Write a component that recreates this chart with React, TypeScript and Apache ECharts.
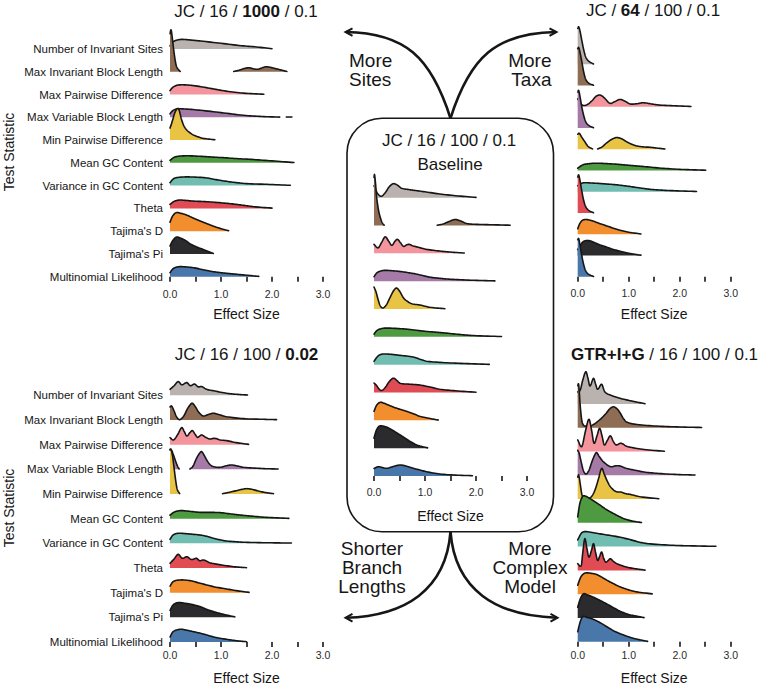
import React, { useEffect, useRef } from "react";
import * as echarts from "echarts";

type Seg = [number, number][];
type Ridge = Seg[];

const FONT = "'Liberation Sans', Arial, Helvetica, sans-serif";
const INK = "#161616";

const rowLabels = [
  "Number of Invariant Sites",
  "Max Invariant Block Length",
  "Max Pairwise Difference",
  "Max Variable Block Length",
  "Min Pairwise Difference",
  "Mean GC Content",
  "Variance in GC Content",
  "Theta",
  "Tajima's D",
  "Tajima's Pi",
  "Multinomial Likelihood",
];
const rowColors = ["#bab2ae", "#8f6d55", "#f4949c", "#a57aa6", "#e9c444", "#4d9a40", "#72bdb1", "#e04b54", "#f28e2d", "#2b2a2c", "#4a77a9"];
const xTickValues = [0, 0.5, 1, 1.5, 2, 2.5, 3];

// density ridges: each ridge = list of segments of [effect size, density]
const sites1000: Ridge[] = [
  [[[0, 3], [0.05, 7], [0.2, 9.5], [0.4, 9], [0.6, 8], [1.0, 5.7], [1.4, 3.3], [1.7, 2], [2.0, 0.3]]],
  [[[0, 38], [0.02, 42], [0.04, 36], [0.065, 25], [0.1, 12], [0.13, 5], [0.2, 0.3]],
   [[1.25, 0.3], [1.35, 1.5], [1.45, 3.2], [1.55, 4], [1.65, 2.8], [1.72, 2.5], [1.8, 3.8], [1.88, 5], [1.98, 4.3], [2.08, 3], [2.2, 1.5], [2.29, 0.3]]],
  [[[0, 4], [0.05, 7], [0.12, 9], [0.2, 9.7], [0.35, 9.5], [0.5, 8.7], [0.78, 6.3], [1.1, 3.4], [1.44, 1.4], [1.84, 0.3]]],
  [[[0, 3.5], [0.05, 6.5], [0.13, 8.3], [0.3, 8.3], [0.6, 7], [1.0, 4.7], [1.44, 2], [1.8, 0.8], [2.15, 0.2]], [[2.28, 0.3], [2.39, 0.3]]],
  [[[0, 12], [0.04, 18], [0.1, 28], [0.16, 31.7], [0.19, 28], [0.22, 21.7], [0.27, 14.5], [0.33, 10], [0.4, 7], [0.46, 5], [0.55, 3.2], [0.65, 1.7], [0.88, 0.3]]],
  [[[0, 2.5], [0.08, 5.5], [0.2, 6.8], [0.4, 7], [0.7, 6.2], [1.0, 5.3], [1.3, 4.3], [1.64, 3.3], [2.0, 2], [2.43, 0.3]]],
  [[[0, 3], [0.06, 6.5], [0.13, 8], [0.3, 8.7], [0.5, 8.5], [0.72, 7.7], [0.9, 6], [1.11, 4.3], [1.3, 3], [1.5, 2], [1.9, 1.3], [2.36, 0.3]]],
  [[[0, 4], [0.08, 7], [0.18, 8.3], [0.3, 8], [0.46, 7.3], [0.72, 6.7], [1.0, 5.6], [1.25, 4.3], [1.45, 3], [1.64, 1.7], [2.0, 0.3]]],
  [[[0, 9], [0.05, 15], [0.12, 18.5], [0.2, 18], [0.33, 16], [0.46, 13], [0.6, 10], [0.85, 5], [1.0, 2.5], [1.15, 0.5]]],
  [[[0, 8], [0.05, 13], [0.12, 16.7], [0.2, 16], [0.3, 13.5], [0.4, 10], [0.52, 7], [0.65, 4.5], [0.75, 2.5], [0.85, 0.5]]],
  [[[0, 4], [0.06, 8], [0.15, 9.8], [0.25, 10], [0.46, 9], [0.65, 7], [0.85, 5], [1.05, 3.7], [1.25, 2.7], [1.5, 1.5], [1.74, 0.3]]],
];

const taxa64: Ridge[] = [
  [[[0, 36], [0.02, 37.5], [0.05, 32], [0.08, 24], [0.12, 14], [0.16, 7], [0.22, 3], [0.31, 0.3]]],
  [[[0, 37], [0.02, 38], [0.05, 32], [0.08, 24], [0.12, 13], [0.16, 6], [0.22, 2.3], [0.31, 0.3]]],
  [[[0, 8], [0.05, 4], [0.1, 1.5], [0.18, 2], [0.28, 6], [0.36, 10.5], [0.44, 11.7], [0.52, 9], [0.63, 3.5], [0.72, 5], [0.83, 7.3], [0.93, 5.5], [1.03, 2.8], [1.15, 3], [1.29, 4], [1.45, 2.8], [1.61, 1.7], [1.9, 1], [2.22, 0.3]]],
  [[[0, 36], [0.02, 37.5], [0.05, 30], [0.08, 21], [0.12, 12], [0.16, 6], [0.22, 2.5], [0.31, 0.3]]],
  [[[0, 15], [0.03, 16], [0.08, 12], [0.14, 7.5], [0.2, 3], [0.29, 0.3]],
   [[0.39, 0.3], [0.48, 2.5], [0.57, 6.5], [0.67, 10], [0.76, 11.7], [0.86, 10.5], [0.96, 7.5], [1.06, 5], [1.16, 3.3], [1.3, 2.3], [1.42, 2], [1.55, 1.2], [1.71, 0.3]]],
  [[[0, 2.3], [0.06, 4.5], [0.12, 6], [0.25, 7], [0.37, 7.3], [0.6, 6.8], [0.83, 6], [1.05, 5], [1.29, 4], [1.6, 2.5], [1.94, 1.3], [2.2, 0.8], [2.51, 0.3]]],
  [[[0, 6], [0.06, 8], [0.12, 9], [0.25, 8.8], [0.5, 8], [0.75, 7], [0.96, 5.7], [1.15, 4.3], [1.29, 3.3], [1.45, 2.3], [1.61, 1.7], [1.9, 1], [2.33, 0.3]]],
  [[[0, 36], [0.02, 38], [0.05, 31], [0.08, 22], [0.12, 12], [0.16, 6], [0.22, 2.5], [0.31, 0.3]]],
  [[[0, 5.5], [0.04, 10.5], [0.09, 13.8], [0.15, 14.7], [0.22, 14.3], [0.31, 13], [0.44, 10.5], [0.57, 8.3], [0.7, 6], [0.83, 4], [1.0, 2], [1.24, 0.3]]],
  [[[0, 6], [0.05, 10], [0.1, 13.5], [0.18, 15], [0.25, 14.5], [0.31, 13.3], [0.44, 10.5], [0.57, 8.3], [0.7, 6], [0.83, 4.3], [1.0, 2.2], [1.24, 0.3]]],
  [[[0, 37], [0.02, 38], [0.05, 30], [0.08, 21], [0.12, 11.5], [0.16, 5.5], [0.22, 2.3], [0.31, 0.3]]],
];

const baseline: Ridge[] = [
  [[[0, 12], [0.05, 6], [0.1, 2.5], [0.15, 1.5], [0.22, 5], [0.3, 11], [0.38, 14], [0.46, 12.5], [0.54, 9.5], [0.7, 8], [0.84, 7], [1.05, 5.5], [1.29, 3.7], [1.6, 2], [2.0, 0.3]]],
  [[[0, 48], [0.01, 51], [0.03, 42], [0.05, 29], [0.08, 18], [0.1, 12.5], [0.13, 7], [0.16, 3], [0.2, 0.3]],
   [[1.24, 0.3], [1.35, 1.5], [1.47, 4], [1.59, 6], [1.7, 4.5], [1.82, 2], [2.0, 1.2], [2.3, 0.8], [2.67, 0.3]]],
  [[[0, 9], [0.08, 5.5], [0.15, 11], [0.22, 16.5], [0.29, 12], [0.35, 8], [0.41, 12], [0.46, 14], [0.52, 10.5], [0.58, 7], [0.64, 8.5], [0.69, 9], [0.76, 7.5], [0.84, 6.5], [1.03, 4], [1.29, 2.3], [1.5, 1.3], [1.77, 0.3]]],
  [[[0, 4.5], [0.06, 8.5], [0.18, 10.7], [0.35, 10.5], [0.51, 9.7], [0.7, 8.3], [0.84, 7], [1.1, 4], [1.3, 2.8], [1.49, 2], [1.9, 1], [2.37, 0.3]]],
  [[[0, 22], [0.04, 17], [0.08, 9.5], [0.12, 3.5], [0.17, 1], [0.24, 4], [0.31, 11], [0.38, 18], [0.44, 21], [0.5, 18], [0.58, 11], [0.66, 7.5], [0.74, 5.3], [0.9, 4], [1.1, 1.7], [1.39, 0.3]]],
  [[[0, 2.7], [0.05, 6], [0.1, 7.5], [0.2, 8.7], [0.4, 8.5], [0.64, 7.7], [0.8, 6.8], [0.97, 5.7], [1.2, 4.7], [1.42, 3.7], [1.7, 2.3], [1.95, 1.3], [2.5, 0.3]]],
  [[[0, 3.3], [0.05, 7], [0.1, 9.5], [0.18, 10.7], [0.35, 10.3], [0.51, 9.3], [0.77, 7.7], [0.9, 5.5], [1.03, 3.5], [1.29, 2.3], [1.7, 1.3], [2.26, 0.3]]],
  [[[0, 9.5], [0.05, 7], [0.1, 3.5], [0.15, 2], [0.22, 5], [0.3, 11], [0.38, 14.3], [0.45, 12], [0.51, 9.3], [0.7, 8.3], [0.9, 7.5], [1.1, 5.5], [1.29, 3.3], [1.6, 1.7], [2.0, 0.3]]],
  [[[0, 9], [0.05, 15], [0.12, 18], [0.2, 17], [0.31, 14.7], [0.45, 12], [0.64, 9], [0.8, 6], [0.9, 4], [1.1, 1.8], [1.26, 0.3]]],
  [[[0, 10], [0.04, 17], [0.09, 21.5], [0.14, 22.3], [0.22, 21.5], [0.31, 19.5], [0.41, 16.5], [0.51, 13.3], [0.61, 10], [0.71, 6.7], [0.85, 3], [1.05, 0.3]]],
  [[[0, 7.5], [0.08, 9.3], [0.16, 8.5], [0.25, 7.7], [0.38, 9.5], [0.51, 11], [0.64, 9.8], [0.77, 7.7], [0.9, 6], [1.03, 4.3], [1.29, 2], [1.6, 0.9], [1.93, 0.3]]],
];

const branch002: Ridge[] = [
  [[[0, 6], [0.08, 9.5], [0.16, 13.7], [0.23, 10.5], [0.33, 12.7], [0.4, 9.5], [0.48, 11.3], [0.55, 8.5], [0.62, 8.7], [0.72, 6], [0.88, 4.3], [1.11, 2], [1.3, 1], [1.52, 0.3]]],
  [[[0, 13], [0.03, 14], [0.08, 9], [0.13, 3], [0.19, 0.3], [0.27, 4], [0.34, 11], [0.4, 15.5], [0.44, 16.7], [0.5, 13], [0.56, 8], [0.65, 4], [0.75, 5.5], [0.85, 6.7], [0.95, 5.5], [1.11, 3.3], [1.44, 1.3], [1.8, 0.7], [2.09, 0.3]]],
  [[[0, 7], [0.07, 4.7], [0.15, 10], [0.23, 17], [0.28, 13], [0.33, 8.7], [0.39, 12], [0.44, 14], [0.49, 10.5], [0.54, 7.3], [0.58, 8.5], [0.62, 9.7], [0.7, 7.3], [0.78, 5.7], [0.88, 6.3], [0.98, 4.7], [1.11, 4], [1.3, 2], [1.54, 0.3]]],
  [[[0, 20], [0.03, 19], [0.07, 14], [0.11, 8], [0.15, 3], [0.18, 0.3]],
   [[0.39, 0.3], [0.45, 3], [0.52, 11], [0.58, 16], [0.62, 17.7], [0.67, 14], [0.72, 9.3], [0.78, 5], [0.85, 2.7], [0.98, 2], [1.1, 3.5], [1.21, 4.3], [1.35, 3], [1.44, 2], [1.8, 0.8], [2.12, 0.3]]],
  [[[0, 44], [0.02, 44.7], [0.05, 38], [0.08, 26], [0.11, 14], [0.14, 5], [0.19, 0.3]],
   [[1.03, 0.3], [1.15, 1.5], [1.3, 3.3], [1.45, 5], [1.52, 5.3], [1.62, 4.5], [1.75, 2.7], [1.9, 1.2], [2.03, 0.3]]],
  [[[0, 3.5], [0.08, 6.5], [0.2, 8], [0.35, 7.5], [0.59, 6.3], [0.8, 6.3], [0.98, 6], [1.2, 4.7], [1.37, 3.7], [1.6, 2.5], [1.89, 1.3], [2.33, 0.3]]],
  [[[0, 4], [0.06, 8.3], [0.16, 10], [0.39, 9.3], [0.59, 8.3], [0.72, 7], [0.85, 5], [1.0, 3.3], [1.11, 2.3], [1.4, 1.2], [1.63, 0.8], [2.0, 0.5], [2.38, 0.3]]],
  [[[0, 4.7], [0.08, 9], [0.16, 13.7], [0.24, 9.7], [0.33, 11.3], [0.42, 8.5], [0.52, 9.7], [0.58, 7.3], [0.66, 8], [0.78, 5.3], [0.9, 4], [1.01, 3], [1.25, 1.3], [1.5, 0.3]]],
  [[[0, 6.5], [0.06, 11], [0.2, 12.7], [0.39, 12], [0.55, 10], [0.72, 7.7], [0.9, 5.5], [1.11, 3.7], [1.3, 2], [1.55, 0.3]]],
  [[[0, 7], [0.06, 12.3], [0.16, 14.7], [0.3, 14], [0.39, 13.3], [0.59, 10.7], [0.72, 8], [0.85, 5.7], [1.05, 3], [1.27, 0.5]]],
  [[[0, 5], [0.06, 10.3], [0.2, 12.7], [0.33, 11.8], [0.46, 10.3], [0.6, 8.7], [0.72, 7], [0.9, 4.5], [1.11, 2.7], [1.3, 1.3], [1.5, 0.3]]],
];

const gtrModel: Ridge[] = [
  [[[0, 12], [0.05, 14], [0.1, 24], [0.16, 32.3], [0.2, 26], [0.24, 18], [0.31, 25.7], [0.35, 20], [0.39, 14.7], [0.47, 19.7], [0.53, 12.3], [0.64, 9], [0.83, 5.7], [1.03, 3.3], [1.15, 2], [1.32, 0.3]]],
  [[[0, 42], [0.02, 43], [0.05, 21.5], [0.09, 5], [0.18, 1.7], [0.3, 3], [0.44, 8.3], [0.55, 14], [0.63, 19], [0.7, 21], [0.77, 19], [0.83, 15], [0.9, 9], [0.96, 5.7], [1.16, 3.3], [1.55, 1.7], [2.0, 0.8], [2.43, 0.3]]],
  [[[0, 11.7], [0.08, 5], [0.15, 20], [0.22, 32.3], [0.27, 22], [0.32, 8.3], [0.38, 16], [0.43, 23.3], [0.48, 15], [0.52, 6.7], [0.58, 11], [0.64, 15.7], [0.7, 10], [0.75, 6.7], [0.85, 8.3], [0.95, 5.5], [1.03, 4.3], [1.3, 2], [1.7, 0.3]]],
  [[[0, 25], [0.03, 22], [0.07, 13], [0.11, 5], [0.16, 1.3], [0.22, 5], [0.28, 13.7], [0.33, 20], [0.37, 22.7], [0.42, 19], [0.5, 13.7], [0.64, 8.7], [0.75, 9.5], [0.83, 9.3], [0.95, 7], [1.1, 5.3], [1.3, 3.3], [1.55, 2], [1.9, 0.9], [2.3, 0.3]]],
  [[[0, 22], [0.02, 24], [0.05, 15], [0.08, 5], [0.12, 1], [0.2, 0.5], [0.26, 2], [0.31, 5.7], [0.36, 12], [0.41, 20.7], [0.47, 30.7], [0.52, 25], [0.57, 19], [0.62, 14], [0.67, 10.7], [0.75, 7.5], [0.85, 7], [0.95, 5.3], [1.03, 4.7], [1.23, 2.3], [1.59, 0.3]]],
  [[[0, 6], [0.04, 19], [0.08, 25], [0.11, 27], [0.16, 26.5], [0.24, 24.3], [0.34, 21], [0.44, 17.7], [0.54, 14], [0.64, 11], [0.77, 7.5], [0.9, 4.3], [1.05, 2], [1.25, 0.3]]],
  [[[0, 6.7], [0.07, 13.3], [0.14, 15], [0.37, 13.3], [0.57, 11.7], [0.77, 10], [0.95, 8], [1.1, 6], [1.25, 4], [1.42, 2.7], [1.88, 1.3], [2.3, 0.7], [2.71, 0.3]]],
  [[[0, 6.7], [0.07, 5], [0.1, 18], [0.14, 31.7], [0.18, 22], [0.22, 13.3], [0.27, 20], [0.31, 26.7], [0.35, 18], [0.39, 10], [0.43, 14], [0.47, 18.3], [0.51, 12], [0.55, 8.3], [0.6, 10], [0.64, 11.7], [0.7, 9], [0.77, 6.7], [0.96, 3.3], [1.15, 1.5], [1.32, 0.3]]],
  [[[0, 9], [0.06, 17], [0.12, 20.5], [0.18, 21.3], [0.28, 20.7], [0.37, 19.7], [0.47, 17], [0.57, 14], [0.7, 10.5], [0.83, 7.3], [1.0, 4.3], [1.16, 2.3], [1.46, 0.3]]],
  [[[0, 10.7], [0.05, 19], [0.11, 24], [0.18, 23.3], [0.31, 20.7], [0.44, 17.5], [0.57, 14], [0.7, 10.3], [0.83, 6.7], [1.0, 3.5], [1.3, 0.3]]],
  [[[0, 10], [0.05, 20], [0.1, 25], [0.18, 24.3], [0.31, 22.3], [0.44, 19], [0.57, 15], [0.72, 10.5], [0.9, 6.7], [1.1, 3.3], [1.37, 0.3]]],
];

// layout of the five panels (pixels)
const panels = [
  { ridges: sites1000, left: 170, yTop: 49, yBot: 276.7, axisY: 281, gridTop: 4, labels: true, lblMargin: 7, nameGap: 26 },
  { ridges: taxa64, left: 577.7, yTop: 64.3, yBot: 276.7, axisY: 280, gridTop: 10, labels: false, lblMargin: 7, nameGap: 27 },
  { ridges: baseline, left: 374, yTop: 197.7, yBot: 476, axisY: 479.5, gridTop: 140, labels: false, lblMargin: 6.5, nameGap: 29 },
  { ridges: branch002, left: 170, yTop: 395.3, yBot: 642, axisY: 644, gridTop: 345, labels: true, lblMargin: 5.5, nameGap: 27 },
  { ridges: gtrModel, left: 577.7, yTop: 404, yBot: 641.7, axisY: 644, gridTop: 350, labels: false, lblMargin: 5.5, nameGap: 27 },
];

function smoothSeg(seg: Seg, steps = 8): Seg {
  const n = seg.length;
  if (n < 3) return seg;
  const m = seg.map((_, i) => {
    const a = seg[Math.max(0, i - 1)];
    const b = seg[Math.min(n - 1, i + 1)];
    return (b[1] - a[1]) / (b[0] - a[0] || 1);
  });
  const out: Seg = [];
  for (let i = 0; i < n - 1; i++) {
    const [x0, y0] = seg[i];
    const [x1, y1] = seg[i + 1];
    const dx = x1 - x0;
    for (let k = 0; k < steps; k++) {
      const t = k / steps, t2 = t * t, t3 = t2 * t;
      const h00 = 2 * t3 - 3 * t2 + 1, h10 = t3 - 2 * t2 + t, h01 = -2 * t3 + 3 * t2, h11 = t3 - t2;
      out.push([x0 + dx * t, Math.max(0, h00 * y0 + h10 * dx * m[i] + h01 * y1 + h11 * dx * m[i + 1])]);
    }
  }
  out.push(seg[n - 1]);
  return out;
}

const txt = (x: number, y: number, text: string, size: number, align: string, extra: any = {}) => ({
  type: "text",
  x,
  y,
  silent: true,
  ...extra,
  style: {
    text,
    fontSize: size,
    fontFamily: FONT,
    fill: INK,
    align,
    textAlign: align,
    verticalAlign: "middle",
    textVerticalAlign: "middle",
    ...(extra.style || {}),
  },
});

export default function App() {
  const ref = useRef<HTMLDivElement>(null);
  useEffect(() => {
    if (!ref.current) return;
    const chart = echarts.init(ref.current, undefined, { renderer: "svg" });
    const rich = { b: { fontWeight: "bold", fontSize: 17, fontFamily: FONT, fill: INK } };

    const grids = panels.map((p) => ({ left: p.left, top: p.gridTop, width: 153, height: p.axisY - p.gridTop }));
    const xAxes = panels.map((p, i) => ({
      type: "value",
      gridIndex: i,
      min: 0,
      max: 3,
      interval: 0.5,
      name: "Effect Size",
      nameLocation: "middle",
      nameGap: p.nameGap,
      nameTextStyle: { fontSize: 14, fontFamily: FONT, color: INK },
      axisLine: { show: false },
      axisTick: { show: true, length: 5, lineStyle: { color: INK, width: 1.6 }, customValues: xTickValues },
      splitLine: { show: false },
      axisLabel: {
        fontSize: 10.5,
        fontFamily: FONT,
        color: "#2a2a2a",
        margin: p.lblMargin,
        showMinLabel: true,
        showMaxLabel: true,
        formatter: (v: number) => (Math.abs(v - Math.round(v)) < 1e-6 ? v.toFixed(1) : ""),
      },
    }));
    const yAxes = panels.map((p, i) => {
      const s = (p.yBot - p.yTop) / 10;
      return {
        type: "value",
        gridIndex: i,
        min: p.yBot - p.axisY,
        max: p.yBot - p.gridTop,
        axisLine: { show: false },
        axisTick: { show: false },
        splitLine: { show: false },
        axisLabel: {
          show: p.labels,
          customValues: rowLabels.map((_, r) => (10 - r) * s),
          formatter: (v: number) => rowLabels[Math.round(10 - v / s)] || "",
          fontSize: 11.5,
          fontFamily: FONT,
          color: INK,
          margin: 7,
          padding: [0, 0, 5, 0],
        },
      };
    });
    const series = panels.map((p, pi) => {
      const s = (p.yBot - p.yTop) / 10;
      return {
        type: "custom",
        coordinateSystem: "cartesian2d",
        xAxisIndex: pi,
        yAxisIndex: pi,
        clip: false,
        silent: true,
        data: p.ridges.map((_, r) => [0, (10 - r) * s]),
        renderItem: (params: any, api: any) => {
          const r = params.dataIndex;
          const base = (10 - r) * s;
          const children: any[] = [];
          p.ridges[r].forEach((seg) => {
            const sm = smoothSeg(seg);
            const top = sm.map(([x, h]) => api.coord([x, base + h]));
            const b0 = api.coord([sm[0][0], base]);
            const b1 = api.coord([sm[sm.length - 1][0], base]);
            children.push({ type: "polygon", shape: { points: [b0, ...top, b1] }, style: { fill: rowColors[r], stroke: "none" } });
            children.push({
              type: "polyline",
              shape: { points: top },
              style: { fill: "none", stroke: INK, lineWidth: 1.6, lineJoin: "round", lineCap: "round" },
            });
          });
          return { type: "group", children };
        },
      };
    });

    const curve = (x1: number, y1: number, c1x: number, c1y: number, c2x: number, c2y: number, x2: number, y2: number) => ({
      type: "bezierCurve",
      silent: true,
      shape: { x1, y1, cpx1: c1x, cpy1: c1y, cpx2: c2x, cpy2: c2y, x2, y2 },
      style: { stroke: INK, lineWidth: 2.6, fill: "none" },
    });
    const head = (pts: number[][]) => ({
      type: "polyline",
      silent: true,
      shape: { points: pts },
      style: { stroke: INK, lineWidth: 2, fill: "none", lineJoin: "miter" },
    });

    const graphic = [
      { type: "rect", silent: true, shape: { x: 347, y: 118.3, width: 206.5, height: 413.4, r: 35 }, style: { fill: "none", stroke: INK, lineWidth: 1.6 } },
      curve(450.5, 118.3, 431, 57, 405, 33, 346, 32),
      curve(450.5, 118.3, 470, 57, 496, 33, 556, 32),
      curve(450.5, 531.7, 446, 590, 405, 616, 346, 617.7),
      curve(450.5, 531.7, 455, 590, 496, 616, 557, 617.7),
      head([[352.5, 28.3], [345.5, 32], [352.5, 35.8]]),
      head([[549.5, 28.3], [556.5, 32], [549.5, 35.8]]),
      head([[352.5, 613.8], [345.5, 617.7], [352.5, 621.6]]),
      head([[550.5, 613.8], [557.5, 617.7], [550.5, 621.6]]),
      txt(246, 11, "JC / 16 / {b|1000} / 0.1", 17, "center", { style: { rich } }),
      txt(653, 10.5, "JC / {b|64} / 100 / 0.1", 17, "center", { style: { rich } }),
      txt(449, 140.5, "JC / 16 / 100 / 0.1", 17, "center"),
      txt(450, 164.5, "Baseline", 17, "center"),
      txt(246.5, 354.5, "JC / 16 / 100 / {b|0.02}", 17, "center", { style: { rich } }),
      txt(664.5, 354, "{b|GTR+I+G} / 16 / 100 / 0.1", 17, "center", { style: { rich } }),
      txt(9, 152, "Test Statistic", 14, "center", { rotation: Math.PI / 2 }),
      txt(9, 508, "Test Statistic", 14, "center", { rotation: Math.PI / 2 }),
      txt(349, 70, "More\nSites", 19, "left", { style: { lineHeight: 19 } }),
      txt(551.5, 70, "More\nTaxa", 19, "right", { style: { lineHeight: 19 } }),
      txt(372, 567, "Shorter\nBranch\nLengths", 19, "center", { style: { lineHeight: 19 } }),
      txt(530, 567, "More\nComplex\nModel", 19, "center", { style: { lineHeight: 19 } }),
    ];

    chart.setOption({
      animation: false,
      backgroundColor: "#ffffff",
      grid: grids,
      xAxis: xAxes,
      yAxis: yAxes,
      series,
      graphic,
    });
    return () => chart.dispose();
  }, []);
  return <div ref={ref} style={{ position: "absolute", left: 0, top: 0, width: 760, height: 689 }} />;
}
